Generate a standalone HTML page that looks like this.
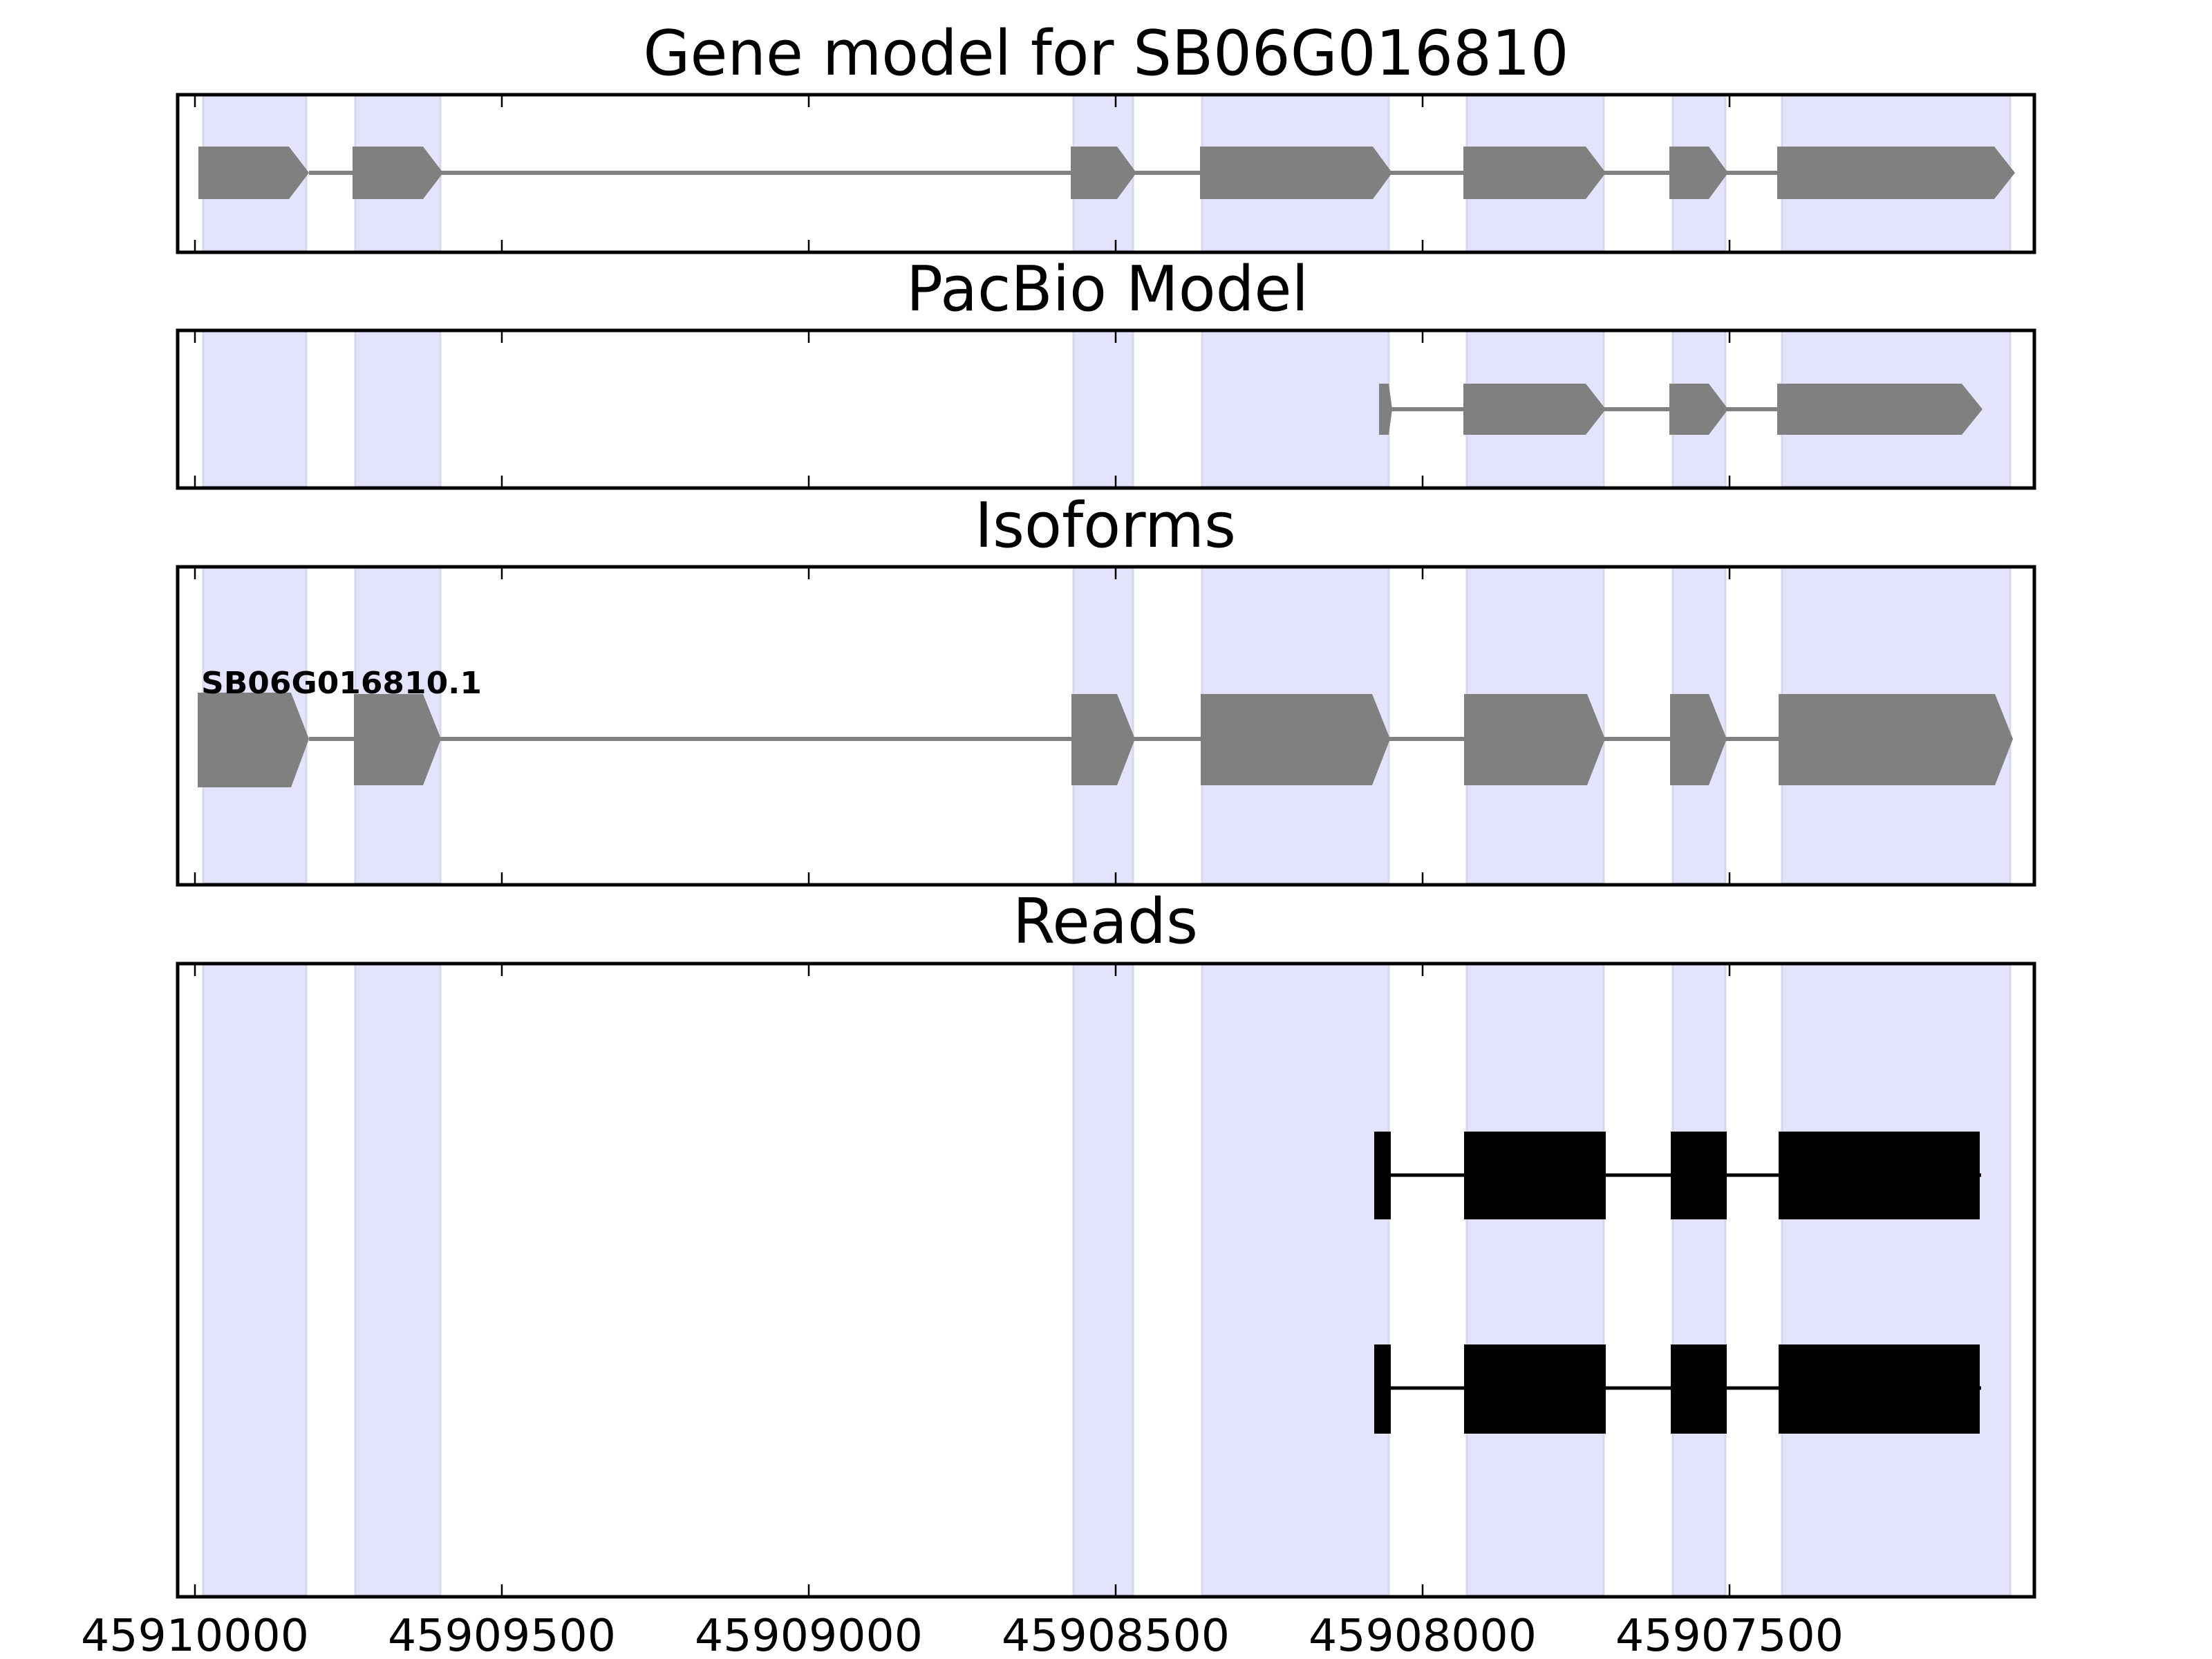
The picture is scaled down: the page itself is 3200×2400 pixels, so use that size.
<!DOCTYPE html>
<html><head><meta charset="utf-8"><style>html,body{margin:0;padding:0;background:#fff}svg{display:block}</style></head>
<body>
<svg xmlns="http://www.w3.org/2000/svg" width="3200" height="2400" viewBox="0 0 3200 2400" font-family="'DejaVu Sans','Liberation Sans',sans-serif">
<defs>
<g id="bands">
<rect x="294" y="0" width="149" height="1" />
</g>
</defs>
<rect width="3200" height="2400" fill="#fff"/>

<!-- bands in each panel -->
<g fill="#e3e3fc" stroke="#d6d6ec" stroke-width="3">
  <!-- panel tops/bottoms: 135-365, 476-706, 818-1280, 1392-2310 -->
  <g id="b1">
  <rect x="294" y="137" width="149" height="226"/>
  <rect x="514" y="137" width="123" height="226"/>
  <rect x="1553" y="137" width="86" height="226"/>
  <rect x="1739" y="137" width="270" height="226"/>
  <rect x="2122" y="137" width="198" height="226"/>
  <rect x="2420" y="137" width="76" height="226"/>
  <rect x="2578" y="137" width="330" height="226"/>
  </g>
  <rect x="294" y="478" width="149" height="226"/>
  <rect x="514" y="478" width="123" height="226"/>
  <rect x="1553" y="478" width="86" height="226"/>
  <rect x="1739" y="478" width="270" height="226"/>
  <rect x="2122" y="478" width="198" height="226"/>
  <rect x="2420" y="478" width="76" height="226"/>
  <rect x="2578" y="478" width="330" height="226"/>

  <rect x="294" y="820" width="149" height="458"/>
  <rect x="514" y="820" width="123" height="458"/>
  <rect x="1553" y="820" width="86" height="458"/>
  <rect x="1739" y="820" width="270" height="458"/>
  <rect x="2122" y="820" width="198" height="458"/>
  <rect x="2420" y="820" width="76" height="458"/>
  <rect x="2578" y="820" width="330" height="458"/>

  <rect x="294" y="1394" width="149" height="914"/>
  <rect x="514" y="1394" width="123" height="914"/>
  <rect x="1553" y="1394" width="86" height="914"/>
  <rect x="1739" y="1394" width="270" height="914"/>
  <rect x="2122" y="1394" width="198" height="914"/>
  <rect x="2420" y="1394" width="76" height="914"/>
  <rect x="2578" y="1394" width="330" height="914"/>
</g>

<!-- Gene model row -->
<line x1="447" y1="250" x2="2571" y2="250" stroke="#808080" stroke-width="6"/>
<g fill="#808080">
  <polygon points="287,212 418,212 447,250 418,288 287,288"/>
  <polygon points="510,212 612,212 641,250 612,288 510,288"/>
  <polygon points="1549,212 1616,212 1644,250 1616,288 1549,288"/>
  <polygon points="1736,212 1986,212 2014,250 1986,288 1736,288"/>
  <polygon points="2117,212 2294,212 2323,250 2294,288 2117,288"/>
  <polygon points="2415,212 2472,212 2500,250 2472,288 2415,288"/>
  <polygon points="2571,212 2885,212 2915,250 2885,288 2571,288"/>
</g>

<!-- PacBio row -->
<line x1="2012" y1="592" x2="2571" y2="592" stroke="#808080" stroke-width="6"/>
<g fill="#808080">
  <polygon points="1995,555 2009,555 2014,592 2009,629 1995,629"/>
  <polygon points="2117,555 2294,555 2323,592 2294,629 2117,629"/>
  <polygon points="2415,555 2472,555 2500,592 2472,629 2415,629"/>
  <polygon points="2571,555 2838,555 2868,592 2838,629 2571,629"/>
</g>

<!-- Isoforms row -->
<line x1="447" y1="1069" x2="2573" y2="1069" stroke="#808080" stroke-width="6"/>
<g fill="#808080">
  <polygon points="286,1002 421,1002 447,1069 421,1139 286,1139"/>
  <polygon points="512,1004 612,1004 638,1069 612,1136 512,1136"/>
  <polygon points="1550,1004 1616,1004 1642,1069 1616,1136 1550,1136"/>
  <polygon points="1737,1004 1985,1004 2011,1069 1985,1136 1737,1136"/>
  <polygon points="2118,1004 2296,1004 2322,1069 2296,1136 2118,1136"/>
  <polygon points="2416,1004 2472,1004 2498,1069 2472,1136 2416,1136"/>
  <polygon points="2573,1004 2886,1004 2912,1069 2886,1136 2573,1136"/>
</g>
<text x="291" y="1003" font-size="44" font-weight="bold" textLength="406" lengthAdjust="spacingAndGlyphs">SB06G016810.1</text>

<!-- Reads -->
<g stroke="#000" stroke-width="5">
  <line x1="1990" y1="1700" x2="2866" y2="1700"/>
  <line x1="1990" y1="2008" x2="2866" y2="2008"/>
</g>
<g fill="#000">
  <rect x="1988" y="1637" width="24" height="127"/>
  <rect x="2118" y="1637" width="205" height="127"/>
  <rect x="2417" y="1637" width="81" height="127"/>
  <rect x="2573" y="1637" width="291" height="127"/>
  <rect x="1988" y="1945" width="24" height="129"/>
  <rect x="2118" y="1945" width="205" height="129"/>
  <rect x="2417" y="1945" width="81" height="129"/>
  <rect x="2573" y="1945" width="291" height="129"/>
</g>

<!-- Axes frames -->
<g fill="none" stroke="#000" stroke-width="5">
  <rect x="257" y="137" width="2686" height="228"/>
  <rect x="257" y="478" width="2686" height="228"/>
  <rect x="257" y="820" width="2686" height="460"/>
  <rect x="257" y="1394" width="2686" height="916"/>
</g>

<!-- ticks -->
<g stroke="#000" stroke-width="2.5">
  <path d="M282 137v18M726 137v18M1170 137v18M1614 137v18M2058 137v18M2502 137v18
           M282 365v-18M726 365v-18M1170 365v-18M1614 365v-18M2058 365v-18M2502 365v-18
           M282 478v18M726 478v18M1170 478v18M1614 478v18M2058 478v18M2502 478v18
           M282 706v-18M726 706v-18M1170 706v-18M1614 706v-18M2058 706v-18M2502 706v-18
           M282 820v18M726 820v18M1170 820v18M1614 820v18M2058 820v18M2502 820v18
           M282 1280v-18M726 1280v-18M1170 1280v-18M1614 1280v-18M2058 1280v-18M2502 1280v-18
           M282 1394v18M726 1394v18M1170 1394v18M1614 1394v18M2058 1394v18M2502 1394v18
           M282 2310v-18M726 2310v-18M1170 2310v-18M1614 2310v-18M2058 2310v-18M2502 2310v-18"/>
</g>

<!-- Titles -->
<g font-size="90" text-anchor="middle" fill="#000">
  <text x="1600" y="108" textLength="1339" lengthAdjust="spacingAndGlyphs">Gene model for SB06G016810</text>
  <text x="1602" y="449" textLength="582" lengthAdjust="spacingAndGlyphs">PacBio Model</text>
  <text x="1599" y="791" textLength="378" lengthAdjust="spacingAndGlyphs">Isoforms</text>
  <text x="1599" y="1364" textLength="268" lengthAdjust="spacingAndGlyphs">Reads</text>
</g>

<!-- Tick labels -->
<g font-size="64" text-anchor="middle" fill="#000">
  <text x="282" y="2388" textLength="330" lengthAdjust="spacingAndGlyphs">45910000</text>
  <text x="726" y="2388" textLength="330" lengthAdjust="spacingAndGlyphs">45909500</text>
  <text x="1170" y="2388" textLength="330" lengthAdjust="spacingAndGlyphs">45909000</text>
  <text x="1614" y="2388" textLength="330" lengthAdjust="spacingAndGlyphs">45908500</text>
  <text x="2058" y="2388" textLength="330" lengthAdjust="spacingAndGlyphs">45908000</text>
  <text x="2502" y="2388" textLength="330" lengthAdjust="spacingAndGlyphs">45907500</text>
</g>
</svg>
</body></html>
